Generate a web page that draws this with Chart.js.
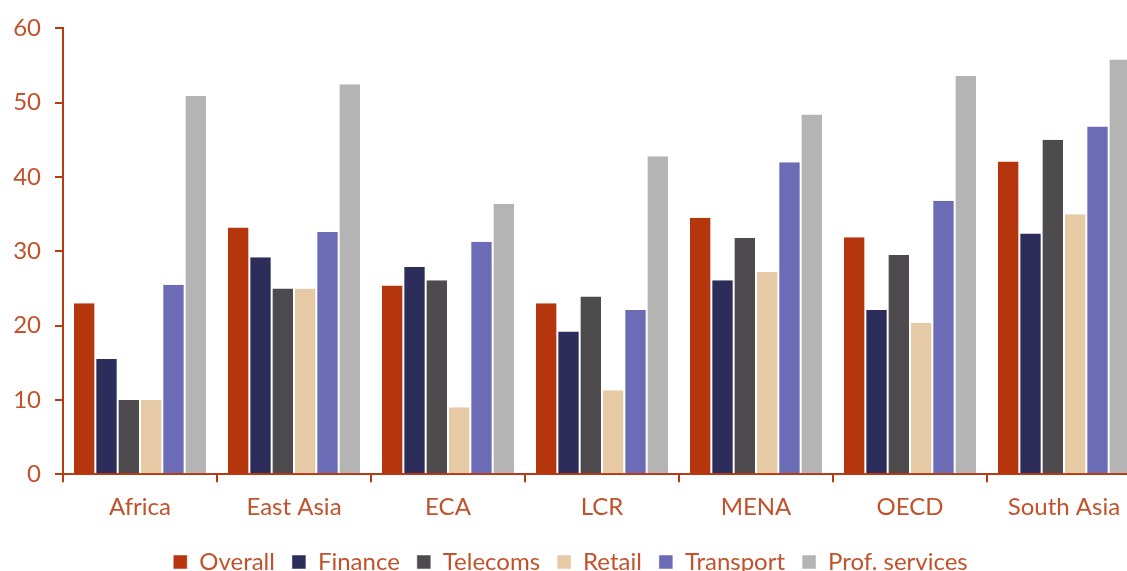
<!DOCTYPE html>
<html>
<head>
<meta charset="utf-8">
<script src="https://cdn.jsdelivr.net/npm/chart.js@4.4.0/dist/chart.umd.min.js"></script>
<style>
  html, body { margin: 0; padding: 0; background: #fff; overflow: hidden; }
  #wrap { width: 1150px; height: 584px; }
</style>
</head>
<body>
<div id="wrap"><canvas id="chart" width="1150" height="584"></canvas></div>
<script>
// ── DATA ──────────────────────────────
const regions = ['Africa', 'East Asia', 'ECA', 'LCR', 'MENA', 'OECD', 'South Asia'];

const overall   = [23.0, 33.2, 25.4, 23.0, 34.5, 31.9, 42.1];
const finance   = [15.5, 29.2, 27.9, 19.2, 26.1, 22.1, 32.4];
const telecoms  = [10.0, 25.0, 26.1, 23.9, 31.8, 29.5, 45.0];
const retail    = [10.0, 25.0,  9.0, 11.3, 27.2, 20.4, 35.0];
const transport = [25.5, 32.6, 31.3, 22.1, 42.0, 36.8, 46.8];
const profServ  = [50.9, 52.5, 36.4, 42.8, 48.4, 53.6, 55.8];

const yTicks = [0, 10, 20, 30, 40, 50, 60];

// ── STYLE ─────────────────────────────
const AXIS  = '#B83A12';
const TEXT  = '#C2522C';
const FONT  = 'Lato';

function ds(label, data, color) {
  return {
    label, data,
    backgroundColor: color,
    borderColor: '#fff',
    borderWidth: { left: 1, right: 1, top: 0, bottom: 0 },
    borderSkipped: false,
    categoryPercentage: 0.87,
    barPercentage: 1.0,
  };
}

new Chart(document.getElementById('chart'), {
  type: 'bar',
  data: {
    labels: regions,
    datasets: [
      ds('Overall',        overall,   '#B5350D'),
      ds('Finance',        finance,   '#2D2D5C'),
      ds('Telecoms',       telecoms,  '#4D4B4D'),
      ds('Retail',         retail,    '#E6CAA6'),
      ds('Transport',      transport, '#6C6BB6'),
      ds('Prof. services', profServ,  '#B4B4B4'),
    ],
  },
  options: {
    responsive: false,
    animation: false,
    layout: { padding: { top: 10, right: 9, left: 0, bottom: 0 } },
    plugins: {
      tooltip: { enabled: false },
      legend: {
        position: 'bottom',
        labels: {
          color: TEXT,
          font: { family: FONT, size: 24 },
          boxWidth: 14,
          boxHeight: 14,
          padding: 17,
        },
      },
    },
    scales: {
      x: {
        grid: { display: true, drawOnChartArea: false, offset: true, color: AXIS, lineWidth: 2, tickLength: 8 },
        border: { color: AXIS, width: 2 },
        ticks: { color: TEXT, font: { family: FONT, size: 24 }, padding: 11 },
      },
      y: {
        min: 0,
        max: 60,
        afterFit: s => { s.width = 63; },
        afterBuildTicks: s => { s.ticks = yTicks.map(v => ({ value: v })); },
        grid: { display: true, drawOnChartArea: false, color: AXIS, lineWidth: 2, tickLength: 8 },
        border: { color: AXIS, width: 2 },
        ticks: { color: TEXT, font: { family: FONT, size: 24 }, padding: 14 },
      },
    },
  },
});
</script>
</body>
</html>
